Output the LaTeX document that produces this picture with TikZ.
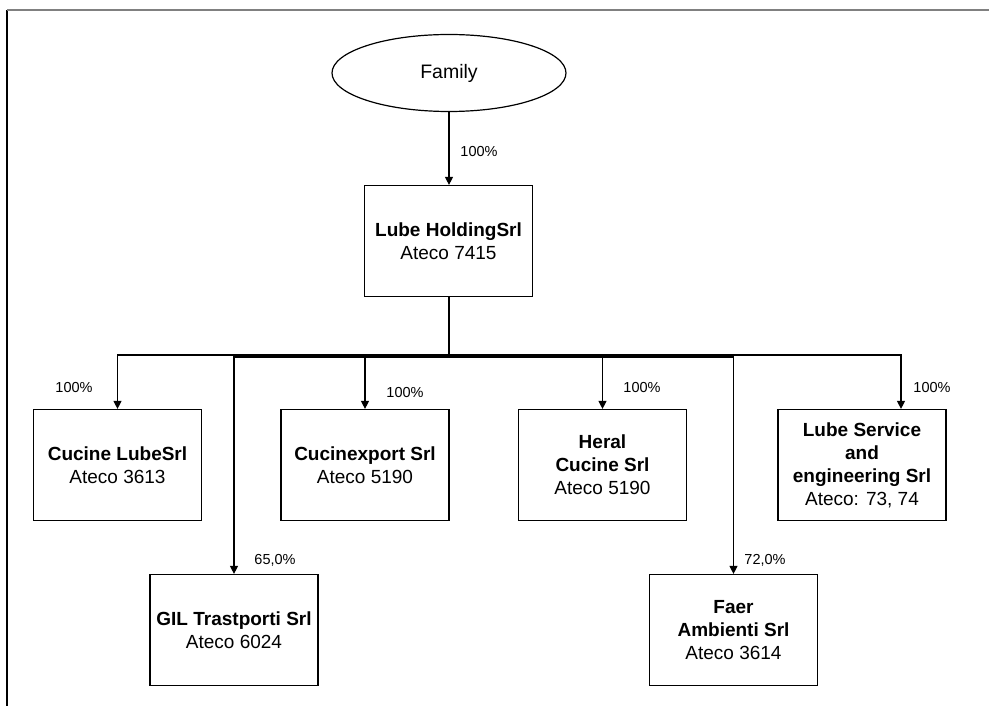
\documentclass[tikz,border=0pt]{standalone}
\usepackage{fontspec}
\setmainfont{Liberation Sans}
\usetikzlibrary{arrows.meta,shapes.geometric}

\tikzset{
  firm/.style={draw,line width=1.2pt,minimum width=168pt,minimum height=111pt,align=center,inner sep=2pt,font=\fontsize{19}{23}\selectfont},
  share/.style={font=\fontsize{14.5}{17}\selectfont,inner sep=0pt},
  own/.style={line width=1.2pt,-{Triangle[length=8pt,width=8pt]}},
}

\begin{document}
\begin{tikzpicture}[x=1pt,y=-1pt]
        \useasboundingbox (0,0) rectangle (989,706);
        \draw[line width=1.5pt] (7,10) -- (7,706);
        \draw[line width=1.5pt,gray] (7,10) -- (989,10);

        \node[draw,ellipse,line width=1.2pt,minimum width=234pt,minimum height=77pt,font=\fontsize{19.5}{23}\selectfont] (family) at (449,73) {Family};
        \node[firm] (holding) at (448.5,241) {\textbf{Lube HoldingSrl}\\Ateco 7415};

        \node[firm] (cucine) at (117.5,465) {\textbf{Cucine LubeSrl}\\Ateco 3613};
        \node[firm] (export) at (365,465) {\textbf{Cucinexport Srl}\\Ateco 5190};
        \node[firm] (heral) at (602.5,465) {\textbf{Heral}\\\textbf{Cucine Srl}\\Ateco 5190};
        \node[firm] (service) at (862,465) {\textbf{Lube Service}\\\textbf{and}\\\textbf{engineering Srl}\\Ateco: 73, 74};
        \node[firm] (gil) at (234,630) {\textbf{GIL Trastporti Srl}\\Ateco 6024};
        \node[firm] (faer) at (733.5,630) {\textbf{Faer}\\\textbf{Ambienti Srl}\\Ateco 3614};

        \draw[own] (family.south) -- (family.south |- holding.north);
        \coordinate (hub) at (448.5,355);
        \coordinate (hubb) at (448.5,357);
        \draw[line width=2pt] (holding.south) -- (hubb);
        \draw[own] (hub) -| (cucine.north);
        \draw[own] (hub) -| (export.north);
        \draw[own] (hub) -| (heral.north);
        \draw[own] (hub) -| ([xshift=39pt]service.north);
        \draw[own] (hubb) -| (gil.north);
        \draw[own] (hubb) -| (faer.north);

        \node[share] (pFamily) at (479,152) {100\%};
        \node[share] (pCucine) at (74,388) {100\%};
        \node[share] (pExport) at (405,393) {100\%};
        \node[share] (pHeral) at (642,388) {100\%};
        \node[share] (pService) at (932,388) {100\%};
        \node[share] (pGil) at (275,560) {65,0\%};
        \node[share] (pFaer) at (765,560) {72,0\%};
    \end{tikzpicture}
\end{document}
